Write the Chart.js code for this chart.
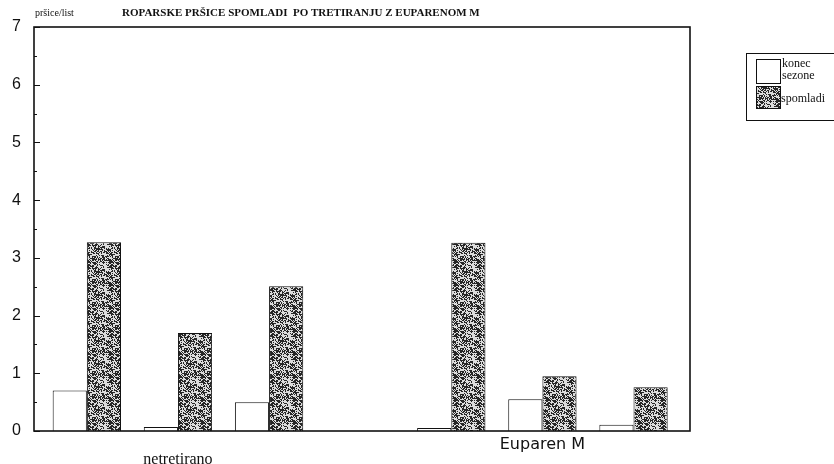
<!DOCTYPE html>
<html>
<head>
<meta charset="utf-8">
<script src="https://cdn.jsdelivr.net/npm/chart.js@4.4.1/dist/chart.umd.min.js"></script>
<style>
  html, body { margin: 0; padding: 0; background: #fff; }
  #wrap { position: relative; width: 834px; height: 464px; }
</style>
</head>
<body>
<div id="wrap"><canvas id="c" width="834" height="464"></canvas></div>
<script>
// ---- data ----
const categories = ['1', '2', '3', '4', '5', '6', '7'];
const konecSezone = [0.70, 0.07, 0.50, 0.00, 0.05, 0.55, 0.11];
const spomladi    = [3.27, 1.70, 2.51, 0.00, 3.26, 0.95, 0.76];
const groupLabels = ['netretirano', 'Euparen M'];
const groupLabelPos = [1, 5];
const yTicks = [0, 1, 2, 3, 4, 5, 6, 7];
const seriesNames = [['konec', 'sezone'], ['spomladi']];
const chartTitle = 'ROPARSKE PRŠICE SPOMLADI  PO TRETIRANJU Z EUPARENOM M';
const yUnit = 'pršice/list';

// ---- stipple texture (fixed bitmap, visual only) ----
function makePattern() {
  const N = 23;
  const p = document.createElement('canvas');
  p.width = N; p.height = N;
  const g = p.getContext('2d');
  g.fillStyle = '#dcdcdc';
  g.fillRect(0, 0, N, N);
  g.fillStyle = '#262626';
  let s = 11;
  for (let y = 0; y < N; y++) {
    for (let x = 0; x < N; x++) {
      s = (s * 1103515245 + 12345) & 0x7fffffff;
      const r = (s >> 16) % 100;
      if (r < 40) g.fillRect(x, y, 1, 1);
      else if (r < 46) g.fillRect(x, y, 2, 1);
    }
  }
  return g.createPattern(p, 'repeat');
}
const ctx0 = document.getElementById('c').getContext('2d');
const stipple = makePattern();

const framePlugin = {
  id: 'frame',
  afterDraw(chart) {
    const { ctx, chartArea: a, scales } = chart;
    ctx.save();
    ctx.strokeStyle = '#111';
    ctx.lineWidth = 1.6;
    ctx.strokeRect(a.left, a.top, a.right - a.left, a.bottom - a.top);
    // inner ticks on y axis
    ctx.lineWidth = 1;
    const ys = scales.y;
    for (let v = 0; v <= 7; v += 0.5) {
      const py = Math.round(ys.getPixelForValue(v)) + 0.5;
      const len = Number.isInteger(v) ? 6 : 3;
      ctx.beginPath();
      ctx.moveTo(a.left, py);
      ctx.lineTo(a.left + len, py);
      ctx.stroke();
    }
    // header texts
    ctx.fillStyle = '#111';
    ctx.textBaseline = 'alphabetic';
    ctx.font = '10px "Liberation Serif", serif';
    ctx.fillText(yUnit, 35, 16);
    ctx.font = 'bold 11px "Liberation Serif", serif';
    ctx.fillText(chartTitle, 122, 16);
    // legend
    const lx = 746, ly = 53;
    ctx.lineWidth = 1;
    ctx.strokeRect(lx + 0.5, ly + 0.5, 88, 67);
    ctx.fillStyle = '#fff';
    ctx.fillRect(756, 59, 24, 24);
    ctx.strokeRect(756.5, 59.5, 24, 24);
    ctx.fillStyle = stipple;
    ctx.fillRect(756, 86, 24, 22);
    ctx.strokeRect(756.5, 86.5, 24, 22);
    ctx.fillStyle = '#111';
    ctx.font = '12px "Liberation Serif", serif';
    ctx.fillText(seriesNames[0][0], 782, 67);
    ctx.fillText(seriesNames[0][1], 782, 79);
    ctx.fillText(seriesNames[1][0], 781, 102);
    ctx.restore();
  }
};

new Chart(ctx0, {
  type: 'bar',
  data: {
    datasets: [
      {
        label: seriesNames[0].join(' '),
        data: categories.map((c, i) => ({ x: i, y: konecSezone[i] })),
        backgroundColor: '#ffffff',
        borderColor: '#111',
        borderWidth: 1,
        categoryPercentage: 0.75,
        barPercentage: 1.0
      },
      {
        label: seriesNames[1].join(' '),
        data: categories.map((c, i) => ({ x: i, y: spomladi[i] })),
        backgroundColor: stipple,
        borderColor: '#111',
        borderWidth: 1,
        categoryPercentage: 0.75,
        barPercentage: 1.0
      }
    ]
  },
  options: {
    responsive: false,
    animation: false,
    devicePixelRatio: 1,
    layout: { padding: { left: 0, right: 144, top: 27, bottom: 0 } },
    plugins: {
      legend: { display: false },
      title: { display: false },
      tooltip: { enabled: false }
    },
    scales: {
      x: {
        type: 'linear',
        offset: false,
        min: -0.58,
        max: 6.62,
        afterFit(s) { s.height = 33; },
        afterBuildTicks(s) { s.ticks = groupLabelPos.map(v => ({ value: v })); },
        grid: { display: false, drawTicks: false, offset: false },
        border: { display: false },
        ticks: {
          autoSkip: false,
          maxRotation: 0,
          padding: 6,
          color: '#111',
          callback(v) {
            const k = groupLabelPos.indexOf(v);
            if (k === 0) return ['', groupLabels[0]];
            if (k === 1) return groupLabels[1];
            return '';
          },
          font(ctx) {
            if (ctx.index === 0) return { family: '"Liberation Serif", serif', size: 16, lineHeight: 0.95 };
            return { family: '"DejaVu Sans", sans-serif', size: 16, lineHeight: 1.0 };
          }
        }
      },
      y: {
        min: 0,
        max: 7,
        afterFit(s) { s.width = 34; },
        afterBuildTicks(s) { s.ticks = yTicks.map(v => ({ value: v })); },
        grid: { display: false, drawTicks: false },
        border: { display: false },
        ticks: {
          padding: 13,
          color: '#111',
          font: { family: '"Liberation Sans", Arial, sans-serif', size: 16 }
        }
      }
    }
  },
  plugins: [framePlugin]
});
</script>
</body>
</html>
